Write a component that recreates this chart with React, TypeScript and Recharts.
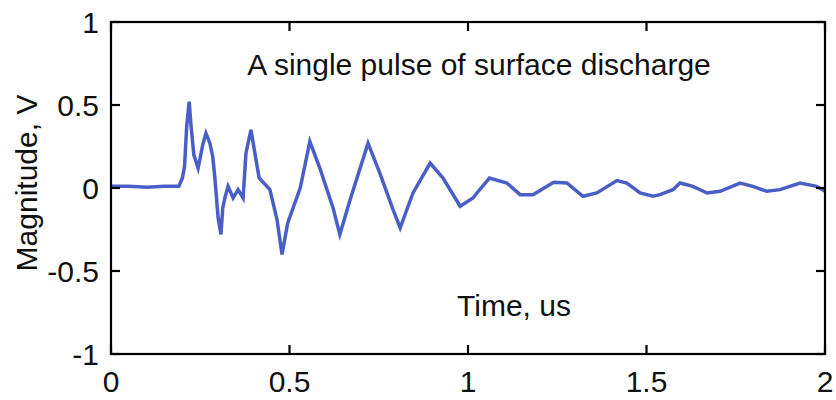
import React from 'react';
import { LineChart, Line, XAxis, YAxis } from 'recharts';

const time: number[] = [
  0, 0.05, 0.1, 0.15, 0.19, 0.2, 0.206, 0.212, 0.219, 0.224, 0.232, 0.244, 0.257, 0.266, 0.277, 0.285,
  0.291, 0.3, 0.308, 0.313, 0.319, 0.328, 0.342, 0.356, 0.37, 0.378, 0.392, 0.403, 0.415, 0.445,
  0.465, 0.479, 0.495, 0.53, 0.557, 0.585, 0.622, 0.641, 0.67, 0.72, 0.753, 0.79, 0.81, 0.846,
  0.894, 0.93, 0.978, 1.014, 1.025, 1.06, 1.109, 1.146, 1.182, 1.24, 1.277, 1.322, 1.361, 1.417,
  1.445, 1.482, 1.518, 1.538, 1.574, 1.594, 1.63, 1.67, 1.706, 1.762, 1.798, 1.837, 1.874, 1.93,
  1.977, 2.0,
];

const magnitude: number[] = [
  0.01, 0.01, 0.005, 0.01, 0.01, 0.06, 0.13, 0.37, 0.52, 0.38, 0.2, 0.12, 0.26, 0.33, 0.27, 0.19,
  0.06, -0.18, -0.28, -0.12, -0.06, 0.01, -0.06, -0.01, -0.06, 0.21, 0.35, 0.21, 0.06, -0.01,
  -0.19, -0.4, -0.21, 0.0, 0.28, 0.12, -0.12, -0.28, -0.07, 0.27, 0.09, -0.13, -0.24, -0.03,
  0.15, 0.06, -0.11, -0.06, -0.03, 0.06, 0.03, -0.04, -0.04, 0.035, 0.03, -0.05, -0.03, 0.045,
  0.03, -0.03, -0.05, -0.04, -0.01, 0.03, 0.01, -0.03, -0.02, 0.03, 0.01, -0.02, -0.01, 0.03,
  0.01, -0.02,
];

const xTicks: number[] = [0, 0.5, 1, 1.5, 2];
const yTicks: number[] = [-1, -0.5, 0, 0.5, 1];

const titleText = 'A single pulse of surface discharge';
const xLabelText = 'Time, us';
const yLabelText = 'Magnitude, V';

const data = time.map((t, i) => ({ t, v: magnitude[i] }));

const X_MIN = 0;
const X_MAX = 2;
const Y_MIN = -1;
const Y_MAX = 1;

const CHART_W = 836;
const CHART_H = 400;
const MARGIN = { top: 22, right: 11, bottom: 0, left: 0 };
const Y_AXIS_W = 111;
const X_AXIS_H = 46;
const PLOT_L = MARGIN.left + Y_AXIS_W;
const PLOT_R = CHART_W - MARGIN.right;
const PLOT_T = MARGIN.top;
const PLOT_B = CHART_H - MARGIN.bottom - X_AXIS_H;
const TICK_LEN = 9;

const sx = (t: number) => PLOT_L + ((t - X_MIN) / (X_MAX - X_MIN)) * (PLOT_R - PLOT_L);
const sy = (v: number) => PLOT_B - ((v - Y_MIN) / (Y_MAX - Y_MIN)) * (PLOT_B - PLOT_T);

const FONT = '"Liberation Sans", Arial, sans-serif';

const renderBottomTick = (props: any) => {
  const x = Number(props.x);
  const y = Number(props.y);
  return (
    <text x={x} y={y + 37} textAnchor="middle" fontFamily={FONT} fontSize={30} fill="#111">
      {String(props.payload.value)}
    </text>
  );
};

const renderLeftTick = (props: any) => {
  const x = Number(props.x);
  const y = Number(props.y);
  return (
    <text x={x - 11} y={y + 11} textAnchor="end" fontFamily={FONT} fontSize={30} fill="#111">
      {String(props.payload.value)}
    </text>
  );
};

export default function App() {
  return (
    <div style={{ position: 'absolute', left: 0, top: 0, width: CHART_W, height: CHART_H, background: '#fff' }}>
      <LineChart width={CHART_W} height={CHART_H} data={data} margin={MARGIN}>
        <XAxis
          dataKey="t"
          type="number"
          domain={[X_MIN, X_MAX]}
          ticks={xTicks}
          height={X_AXIS_H}
          tickSize={1}
          tickMargin={0}
          tickLine={false}
          axisLine={{ stroke: '#000', strokeWidth: 2 }}
          tick={renderBottomTick}
          interval={0}
        />
        <YAxis
          type="number"
          domain={[Y_MIN, Y_MAX]}
          ticks={yTicks}
          width={Y_AXIS_W}
          tickSize={1}
          tickMargin={0}
          tickLine={false}
          axisLine={{ stroke: '#000', strokeWidth: 2 }}
          tick={renderLeftTick}
          interval={0}
        />
        <Line
          dataKey="v"
          type="linear"
          stroke="#4a5fc6"
          strokeWidth={3.5}
          dot={false}
          isAnimationActive={false}
        />
      </LineChart>
      <svg
        width={CHART_W}
        height={CHART_H}
        style={{ position: 'absolute', left: 0, top: 0, pointerEvents: 'none', overflow: 'visible' }}
      >
        <rect
          x={PLOT_L}
          y={PLOT_T}
          width={PLOT_R - PLOT_L}
          height={PLOT_B - PLOT_T}
          fill="none"
          stroke="#000"
          strokeWidth={2.2}
        />
        {xTicks.map((t) => (
          <g key={`xt-${t}`}>
            <line x1={sx(t)} y1={PLOT_B} x2={sx(t)} y2={PLOT_B - TICK_LEN} stroke="#000" strokeWidth={2.2} />
            <line x1={sx(t)} y1={PLOT_T} x2={sx(t)} y2={PLOT_T + TICK_LEN} stroke="#000" strokeWidth={2.2} />
          </g>
        ))}
        {yTicks.map((v) => (
          <g key={`yt-${v}`}>
            <line x1={PLOT_L} y1={sy(v)} x2={PLOT_L + TICK_LEN} y2={sy(v)} stroke="#000" strokeWidth={2.2} />
            <line x1={PLOT_R} y1={sy(v)} x2={PLOT_R - TICK_LEN} y2={sy(v)} stroke="#000" strokeWidth={2.2} />
          </g>
        ))}
        <text x={479} y={75} textAnchor="middle" fontFamily={FONT} fontSize={30} fill="#111">
          {titleText}
        </text>
        <text x={514} y={316} textAnchor="middle" fontFamily={FONT} fontSize={30} fill="#111">
          {xLabelText}
        </text>
        <text
          x={37}
          y={183}
          transform="rotate(-90 37 183)"
          textAnchor="middle"
          fontFamily={FONT}
          fontSize={30}
          fill="#111"
        >
          {yLabelText}
        </text>
      </svg>
    </div>
  );
}
